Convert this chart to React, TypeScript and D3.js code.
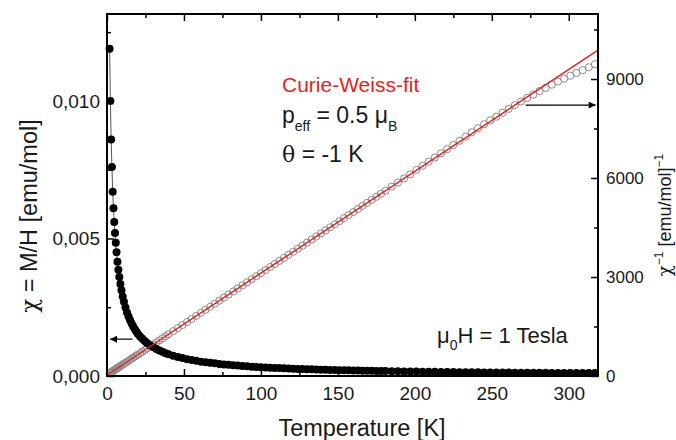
import * as d3 from "d3";
import { useEffect, useRef } from "react";

// temperature [K] of each measured point
const temps = [
  1.7, 2.2, 2.7, 3.2, 3.7, 4.2, 4.7, 5.2, 5.7, 6.2, 6.8, 7.4, 8, 8.7, 9.4, 10.2, 11, 12, 13, 14,
  15, 16, 17, 18, 19, 20, 21.5, 23, 24.5, 26, 28, 30, 32, 34, 36, 38, 40, 43, 46, 49,
  52, 55, 58, 61, 64, 67, 70, 73, 76, 79, 82, 85, 88, 91, 94, 97, 100, 103, 106, 109,
  112, 115, 118, 121, 124, 127, 130, 133, 136, 139, 142, 145, 148, 151, 154, 157, 160, 163, 166, 169,
  172, 175, 178, 181, 185, 189, 193, 197, 201, 205, 209, 213, 217, 221, 225, 229, 233, 237, 241, 245,
  249, 253, 257, 261, 265, 269, 273, 277, 281, 285, 289, 293, 297, 301, 305, 309, 313, 317,
];

// chi = M/H [emu/mol]
const chi = [
  0.0119, 0.01, 0.0086, 0.0076, 0.0067, 0.0061, 0.0056, 0.0052, 0.00484, 0.0045, 0.00415, 0.00386, 0.0036, 0.00334, 0.00312, 0.00289, 0.0027, 0.00249, 0.00231, 0.00216,
  0.00203, 0.00191, 0.0018, 0.00171, 0.00162, 0.00154, 0.00144, 0.00135, 0.00127, 0.0012, 0.00112, 0.00105, 0.00098, 0.00093, 0.00088, 0.00083, 0.00079, 0.00074, 0.00069, 0.00065,
  0.00061, 0.00058, 0.00055, 0.00052, 0.0005, 0.00048, 0.00046, 0.00044, 0.00042, 0.00041, 0.00039, 0.00038, 0.00036, 0.00035, 0.00034, 0.00033, 0.00032, 0.000312, 0.000303, 0.000295,
  0.000287, 0.000279, 0.000272, 0.000266, 0.000259, 0.000253, 0.000247, 0.000242, 0.000236, 0.000231, 0.000227, 0.000222, 0.000217, 0.000213, 0.000209, 0.000205, 0.000201, 0.000198, 0.000194, 0.000191,
  0.000187, 0.000184, 0.000181, 0.000178, 0.000174, 0.000171, 0.000167, 0.000164, 0.00016, 0.000157, 0.000154, 0.000151, 0.000149, 0.000146, 0.000143, 0.00014, 0.000138, 0.000135, 0.000133, 0.000131,
  0.000129, 0.000127, 0.000125, 0.000124, 0.000122, 0.00012, 0.000119, 0.000117, 0.000116, 0.000115, 0.000113, 0.000112, 0.000111, 0.00011, 0.000109, 0.000108, 0.000107, 0.000106,
];

// 1/chi [emu/mol]^-1
const chiInv = [
  83, 99, 114, 130, 145, 160, 176, 191, 207, 222, 241, 259, 278, 299, 321, 346, 370, 401, 432, 463,
  494, 525, 555, 586, 617, 648, 694, 741, 787, 833, 895, 957, 1018, 1080, 1142, 1204, 1265, 1358, 1450, 1543,
  1636, 1728, 1821, 1913, 2006, 2098, 2191, 2284, 2376, 2469, 2561, 2654, 2747, 2839, 2932, 3024, 3117, 3209, 3302, 3395,
  3487, 3580, 3672, 3765, 3858, 3950, 4043, 4135, 4228, 4320, 4413, 4506, 4598, 4691, 4783, 4876, 4968, 5061, 5154, 5246,
  5339, 5431, 5524, 5617, 5740, 5863, 5987, 6110, 6244, 6369, 6496, 6622, 6747, 6873, 6999, 7128, 7256, 7385, 7508, 7627,
  7745, 7858, 7977, 8095, 8209, 8317, 8426, 8529, 8633, 8731, 8829, 8923, 9011, 9100, 9183, 9267, 9355, 9449,
];

// Curie-Weiss fit line (end points)
const fitT = [0, 319];
const fitInv = [31, 9876];

const xMajor = [0, 50, 100, 150, 200, 250, 300];
const xMinor = [25, 75, 125, 175, 225, 275];
const leftMajor = [0, 0.005, 0.01];
const leftMinor = [0.0025, 0.0075, 0.0125];
const rightMajor = [0, 3000, 6000, 9000];
const rightMinor = [1500, 4500, 7500, 10500];

// arrows: [T start, T end (head), value]
const leftArrow = [16.5, 2, 0.00134];
const rightArrow = [272, 317.5, 8210];

const FONT = "'Liberation Sans', Arial, Helvetica, sans-serif";
const GREEK = "'DejaVu Serif', serif";

export default function App() {
  const ref = useRef<SVGSVGElement>(null);

  useEffect(() => {
    const svg = d3.select(ref.current);
    svg.selectAll("*").remove();

    const width = 676;
    const height = 440;
    const margin = { top: 14, right: 78, bottom: 64, left: 107 };
    const x0 = margin.left, x1 = width - margin.right;
    const y0 = height - margin.bottom, y1 = margin.top;

    const x = d3.scaleLinear().domain([0, 319]).range([x0, x1]);
    const yL = d3.scaleLinear().domain([0, 0.01316]).range([y0, y1]);
    const yR = d3.scaleLinear().domain([0, 10970]).range([y0, y1]);

    const defs = svg.append("defs");
    defs.append("marker")
      .attr("id", "head")
      .attr("viewBox", "0 0 10 10")
      .attr("refX", 10).attr("refY", 5)
      .attr("markerWidth", 10).attr("markerHeight", 7)
      .attr("markerUnits", "userSpaceOnUse")
      .attr("orient", "auto")
      .append("path").attr("d", "M0,0 L10,5 L0,10 z").attr("fill", "#000");

    const fmtL = (d: number) => d3.format(".3f")(d).replace(".", ",");

    const styleAxis = (g: any, size: number) => {
      g.select(".domain").remove();
      g.selectAll("line").attr("stroke", "#000").attr("stroke-width", 1.5);
      g.selectAll("text").attr("font-family", FONT).attr("font-size", size).attr("fill", "#1a1a1a");
    };

    // bottom
    svg.append("g").attr("transform", `translate(0,${y0})`)
      .call(d3.axisBottom(x).tickValues(xMajor).tickSize(-7).tickPadding(11).tickFormat(d3.format("d")))
      .call((g: any) => styleAxis(g, 19));
    svg.append("g").attr("transform", `translate(0,${y0})`)
      .call(d3.axisBottom(x).tickValues(xMinor).tickSize(-4).tickFormat(() => ""))
      .call((g: any) => styleAxis(g, 19));
    // top
    svg.append("g").attr("transform", `translate(0,${y1})`)
      .call(d3.axisTop(x).tickValues(xMajor).tickSize(-7).tickFormat(() => ""))
      .call((g: any) => styleAxis(g, 19));
    svg.append("g").attr("transform", `translate(0,${y1})`)
      .call(d3.axisTop(x).tickValues(xMinor).tickSize(-4).tickFormat(() => ""))
      .call((g: any) => styleAxis(g, 19));
    // left
    svg.append("g").attr("transform", `translate(${x0},0)`)
      .call(d3.axisLeft(yL).tickValues(leftMajor).tickSize(-7).tickPadding(7).tickFormat(fmtL as any))
      .call((g: any) => styleAxis(g, 19));
    svg.append("g").attr("transform", `translate(${x0},0)`)
      .call(d3.axisLeft(yL).tickValues(leftMinor).tickSize(-4).tickFormat(() => ""))
      .call((g: any) => styleAxis(g, 19));
    // right
    svg.append("g").attr("transform", `translate(${x1},0)`)
      .call(d3.axisRight(yR).tickValues(rightMajor).tickSize(-7).tickPadding(8).tickFormat(d3.format("d")))
      .call((g: any) => styleAxis(g, 17));
    svg.append("g").attr("transform", `translate(${x1},0)`)
      .call(d3.axisRight(yR).tickValues(rightMinor).tickSize(-4).tickFormat(() => ""))
      .call((g: any) => styleAxis(g, 17));

    const pts = temps.map((t, i) => ({ t, c: chi[i], inv: chiInv[i] }));

    // 1/chi open circles
    svg.append("g")
      .selectAll("circle")
      .data(pts)
      .join("circle")
      .attr("cx", d => x(d.t))
      .attr("cy", d => yR(d.inv))
      .attr("r", 3.6)
      .attr("fill", "none")
      .attr("stroke", "#8c8c8c")
      .attr("stroke-width", 1);

    // chi connecting line + filled circles
    svg.append("path")
      .datum(pts)
      .attr("fill", "none")
      .attr("stroke", "#555")
      .attr("stroke-width", 1)
      .attr("d", d3.line<any>().x(d => x(d.t)).y(d => yL(d.c)));

    svg.append("g")
      .selectAll("circle")
      .data(pts)
      .join("circle")
      .attr("cx", d => x(d.t))
      .attr("cy", d => yL(d.c))
      .attr("r", 4)
      .attr("fill", "#000");

    // fit line
    svg.append("path")
      .datum(fitT.map((t, i) => [t, fitInv[i]]))
      .attr("fill", "none")
      .attr("stroke", "#ee1c1c")
      .attr("stroke-width", 1.4)
      .attr("d", d3.line<any>().x(d => x(d[0])).y(d => yR(d[1])));

    // frame
    svg.append("rect")
      .attr("x", x0).attr("y", y1)
      .attr("width", x1 - x0).attr("height", y0 - y1)
      .attr("fill", "none").attr("stroke", "#000").attr("stroke-width", 2);

    // arrows
    svg.append("line")
      .attr("x1", x(leftArrow[0])).attr("x2", x(leftArrow[1]))
      .attr("y1", yL(leftArrow[2])).attr("y2", yL(leftArrow[2]))
      .attr("stroke", "#000").attr("stroke-width", 1.2)
      .attr("marker-end", "url(#head)");
    svg.append("line")
      .attr("x1", x(rightArrow[0])).attr("x2", x(rightArrow[1]))
      .attr("y1", yR(rightArrow[2])).attr("y2", yR(rightArrow[2]))
      .attr("stroke", "#000").attr("stroke-width", 1.2)
      .attr("marker-end", "url(#head)");

    const txt = svg.append("g").attr("font-family", FONT).attr("fill", "#1a1a1a");

    // axis titles
    txt.append("text")
      .attr("x", 362).attr("y", 436)
      .attr("text-anchor", "middle")
      .attr("font-size", 23.5)
      .text("Temperature [K]");

    const lt = txt.append("text")
      .attr("transform", "translate(37,216) rotate(-90)")
      .attr("text-anchor", "middle")
      .attr("font-size", 23.5);
    lt.append("tspan").style("font-family", GREEK).attr("font-size", 23).text("χ");
    lt.append("tspan").text(" = M/H [emu/mol]");

    const rt = txt.append("text")
      .attr("transform", "translate(671,215) rotate(-90)")
      .attr("text-anchor", "middle")
      .attr("font-size", 18);
    rt.append("tspan").style("font-family", GREEK).attr("font-size", 18).text("χ");
    rt.append("tspan").attr("dy", -8).attr("font-size", 12).text("−1");
    rt.append("tspan").attr("dy", 8).text(" [emu/mol]");
    rt.append("tspan").attr("dy", -8).attr("font-size", 12).text("−1");

    // annotations
    txt.append("text")
      .attr("x", 282).attr("y", 92)
      .attr("font-size", 21)
      .attr("fill", "#ee1c1c")
      .text("Curie-Weiss-fit");

    const p = txt.append("text").attr("x", 282).attr("y", 123).attr("font-size", 23);
    p.append("tspan").text("p");
    p.append("tspan").attr("dy", 8).attr("font-size", 14).text("eff");
    p.append("tspan").attr("dy", -8).text(" = 0.5 μ");
    p.append("tspan").attr("dy", 8).attr("font-size", 14).text("B");

    const th = txt.append("text").attr("x", 282).attr("y", 162).attr("font-size", 23);
    th.append("tspan").style("font-family", GREEK).attr("font-size", 22).text("θ");
    th.append("tspan").text(" = -1 K");

    const h = txt.append("text").attr("x", 437).attr("y", 343).attr("font-size", 22);
    h.append("tspan").text("μ");
    h.append("tspan").attr("dy", 7).attr("font-size", 14).text("0");
    h.append("tspan").attr("dy", -7).text("H = 1 Tesla");
  }, []);

  return (
    <svg
      ref={ref}
      width={676}
      height={440}
      style={{ position: "absolute", left: 0, top: 0, background: "#fff", display: "block" }}
    />
  );
}
